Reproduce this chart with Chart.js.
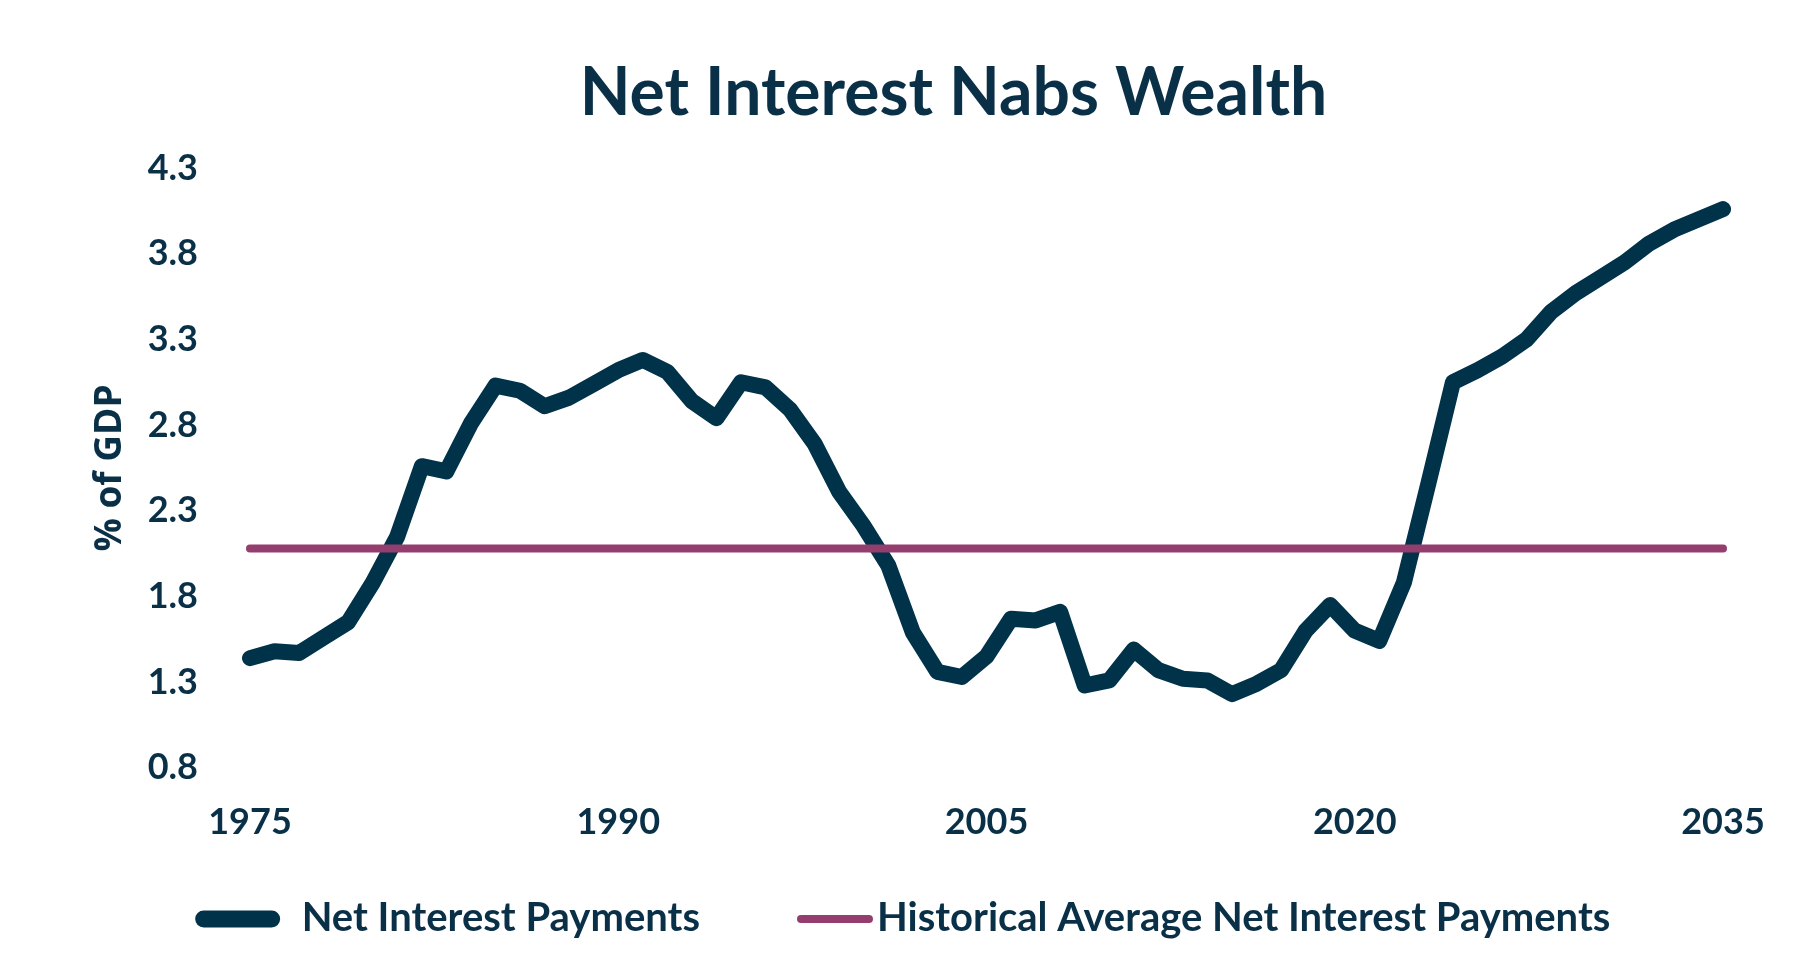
<!DOCTYPE html>
<html lang="en">
<head>
<meta charset="UTF-8">
<title>Net Interest Nabs Wealth</title>
<script src="https://cdn.jsdelivr.net/npm/chart.js@4.4.1/dist/chart.umd.min.js"></script>
<style>
  html, body { margin: 0; padding: 0; background: #ffffff; }
  #wrap { width: 1800px; height: 978px; }
</style>
</head>
<body>
<div id="wrap"><canvas id="chart" width="1800" height="978"></canvas></div>
<script>
// categories: one per year
const years = [
  '1975','1976','1977','1978','1979','1980','1981','1982','1983','1984',
  '1985','1986','1987','1988','1989','1990','1991','1992','1993','1994',
  '1995','1996','1997','1998','1999','2000','2001','2002','2003','2004',
  '2005','2006','2007','2008','2009','2010','2011','2012','2013','2014',
  '2015','2016','2017','2018','2019','2020','2021','2022','2023','2024',
  '2025','2026','2027','2028','2029','2030','2031','2032','2033','2034',
  '2035'
];

// net interest payments, % of GDP
const netInterest = [
  1.44, 1.48, 1.47, 1.56, 1.65, 1.88, 2.15, 2.56, 2.53, 2.81,
  3.03, 3.00, 2.91, 2.96, 3.04, 3.12, 3.18, 3.11, 2.94, 2.84,
  3.05, 3.02, 2.89, 2.69, 2.41, 2.21, 1.98, 1.59, 1.36, 1.33,
  1.45, 1.67, 1.66, 1.71, 1.28, 1.31, 1.49, 1.37, 1.32, 1.31,
  1.23, 1.29, 1.37, 1.60, 1.75, 1.60, 1.54, 1.88, 2.46, 3.05,
  3.12, 3.20, 3.30, 3.46, 3.57, 3.66, 3.75, 3.86, 3.94, 4.00,
  4.06
];

// historical average, drawn from first to last year
const averageYears = ['1975', '2035'];
const averageValues = [2.08, 2.08];

const xTickLabels = ['1975', '1990', '2005', '2020', '2035'];
const yMin = 0.8;
const yMax = 4.3;
const yStep = 0.5;

const seriesNames = ['Net Interest Payments', 'Historical Average Net Interest Payments'];
const chartTitle = 'Net Interest Nabs Wealth';
const yAxisTitle = '% of GDP';

const NAVY = '#003349';
const PLUM = '#943E6F';
const TEXT = '#0A3048';
const FONT = "Lato, 'Open Sans', sans-serif";

// title drawn by hand so it can sit a little left of the plot centre
const titlePlugin = {
  id: 'chartHeading',
  afterDraw(chart) {
    const ctx = chart.ctx;
    const area = chart.chartArea;
    ctx.save();
    ctx.font = 'bold 66px ' + FONT;
    ctx.fillStyle = TEXT;
    ctx.textAlign = 'center';
    ctx.textBaseline = 'middle';
    ctx.fillText(chartTitle, (area.left + area.right) / 2 - 33, 94);
    ctx.restore();
  }
};

// legend with line samples; the Excel original packs the second label
// right against its swatch, so gaps are set per entry
const legendPlugin = {
  id: 'lineLegend',
  afterDraw(chart) {
    const ctx = chart.ctx;
    const entries = [
      { text: seriesNames[0], color: NAVY, lw: 17, gap: 30 },
      { text: seriesNames[1], color: PLUM, lw: 8, gap: 8 }
    ];
    const swatch = 68, between = 101, y = 918;
    ctx.save();
    ctx.font = 'bold 40px ' + FONT;
    let total = between * (entries.length - 1);
    entries.forEach(e => { e.tw = ctx.measureText(e.text).width; total += swatch + e.gap + e.tw; });
    let x = chart.width / 2 + 7 - total / 2;
    entries.forEach(e => {
      ctx.beginPath();
      ctx.lineCap = 'round';
      ctx.lineWidth = e.lw;
      ctx.strokeStyle = e.color;
      ctx.moveTo(x, y + 1);
      ctx.lineTo(x + swatch, y + 1);
      ctx.stroke();
      x += swatch + e.gap;
      ctx.fillStyle = TEXT;
      ctx.textAlign = 'left';
      ctx.textBaseline = 'middle';
      ctx.fillText(e.text, x, y);
      x += e.tw + between;
    });
    ctx.restore();
  }
};

function draw() {
  const ctx = document.getElementById('chart').getContext('2d');
  new Chart(ctx, {
    type: 'line',
    data: {
      labels: years,
      datasets: [
        {
          label: seriesNames[1],
          data: averageYears.map((y, i) => ({ x: y, y: averageValues[i] })),
          borderColor: PLUM,
          backgroundColor: PLUM,
          borderWidth: 8,
          borderCapStyle: 'round',
          pointRadius: 0,
          order: 0
        },
        {
          label: seriesNames[0],
          data: netInterest,
          borderColor: NAVY,
          backgroundColor: NAVY,
          borderWidth: 16,
          borderCapStyle: 'round',
          borderJoinStyle: 'round',
          pointRadius: 0,
          tension: 0,
          order: 1
        }
      ]
    },
    options: {
      responsive: false,
      animation: false,
      devicePixelRatio: 1,
      layout: { padding: { left: 88, right: 77, top: 168, bottom: 101 } },
      scales: {
        x: {
          grid: { display: false, drawTicks: false },
          border: { display: false },
          ticks: {
            autoSkip: false,
            maxRotation: 0,
            minRotation: 0,
            padding: 33,
            color: TEXT,
            font: { family: FONT, size: 36, weight: 'bold' },
            callback(value) {
              const lab = this.getLabelForValue(value);
              return xTickLabels.includes(lab) ? lab : '';
            }
          }
        },
        y: {
          min: yMin,
          max: yMax,
          grid: { display: false, drawTicks: false },
          border: { display: false },
          ticks: {
            stepSize: yStep,
            padding: 52,
            color: TEXT,
            font: { family: FONT, size: 36, weight: 'bold' },
            callback: (v) => Number(v).toFixed(1)
          },
          title: {
            display: true,
            text: yAxisTitle,
            color: TEXT,
            padding: 0,
            font: { family: "'Open Sans', sans-serif", size: 37, weight: 'bold' }
          },
          afterFit(scale) { scale.width = 162; }
        }
      },
      plugins: {
        title: { display: false },
        tooltip: { enabled: false },
        legend: { display: false }
      }
    },
    plugins: [titlePlugin, legendPlugin]
  });
}

if (document.fonts && document.fonts.load) {
  Promise.all([
    document.fonts.load('bold 36px Lato'),
    document.fonts.load("bold 37px 'Open Sans'")
  ]).then(draw, draw);
} else {
  draw();
}
</script>
</body>
</html>
